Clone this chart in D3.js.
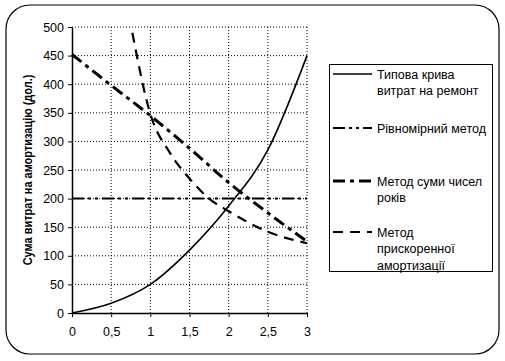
<!DOCTYPE html>
<html>
<head>
<meta charset="utf-8">
<script src="https://cdn.jsdelivr.net/npm/d3@7"></script>
<style>
  body { margin: 0; background: #fff; }
  svg { font-family: "Liberation Sans", Arial, sans-serif; }
</style>
</head>
<body>
<svg id="chart" width="505" height="361"></svg>
<script>
// data
const xTicks = [0, 0.5, 1, 1.5, 2, 2.5, 3];
const yTicks = [0, 50, 100, 150, 200, 250, 300, 350, 400, 450, 500];

const repairX = [0, 0.5, 1, 1.5, 2, 2.5, 3];
const repairY = [0, 17, 50, 110, 187, 285, 450];

const straightX = [0, 3];
const straightY = [200, 200];

const sumYearsX = [0, 0.5, 1, 1.5, 2, 2.5, 3];
const sumYearsY = [452, 398, 345, 288, 228, 175, 125];

const accelX = [0.77, 1, 1.25, 1.5, 1.75, 2, 2.5, 3];
const accelY = [490, 348, 280, 235, 200, 178, 142, 122];

const legendLabels = [
  ['Типова крива', 'витрат на ремонт'],
  ['Рівномірний метод'],
  ['Метод суми чисел', 'років'],
  ['Метод', 'прискоренної', 'амортизації']
];

const svg = d3.select('#chart');
const margin = { left: 72, top: 27, right: 198, bottom: 48 };
const width = 505 - margin.left - margin.right;
const height = 361 - margin.top - margin.bottom;

// outer frame
svg.append('rect')
  .attr('x', 6).attr('y', 5)
  .attr('width', 493).attr('height', 349)
  .attr('rx', 24).attr('ry', 24)
  .attr('fill', 'none')
  .attr('stroke', '#000')
  .attr('stroke-width', 1.2);

const x = d3.scaleLinear().domain([0, 3]).range([0, width]);
const y = d3.scaleLinear().domain([0, 500]).range([height, 0]);

const g = svg.append('g').attr('transform', `translate(${margin.left},${margin.top})`);

// grid
g.append('g').selectAll('line')
  .data(yTicks.filter(d => d > 0))
  .join('line')
  .attr('x1', 0).attr('x2', width)
  .attr('y1', d => y(d)).attr('y2', d => y(d))
  .attr('stroke', '#000').attr('stroke-width', 1)
  .attr('stroke-dasharray', '1,2');

g.append('g').selectAll('line')
  .data(xTicks.filter(d => d > 0))
  .join('line')
  .attr('x1', d => x(d)).attr('x2', d => x(d))
  .attr('y1', 0).attr('y2', height)
  .attr('stroke', '#000').attr('stroke-width', 1)
  .attr('stroke-dasharray', '1,2');

// axes
const xAxis = g.append('g')
  .attr('transform', `translate(0,${height})`)
  .call(d3.axisBottom(x).tickValues(xTicks).tickSize(4).tickSizeOuter(0)
    .tickFormat(d => String(d).replace('.', ',')));
const yAxis = g.append('g')
  .call(d3.axisLeft(y).tickValues(yTicks).tickSize(4).tickSizeOuter(0));

[xAxis, yAxis].forEach(a => {
  a.select('.domain').attr('stroke', '#000').attr('stroke-width', 1.5);
  a.selectAll('.tick line').attr('stroke', '#000');
  a.selectAll('.tick text')
    .attr('font-size', 12.5)
    .attr('fill', '#000')
    .attr('font-family', '"Liberation Sans", Arial, sans-serif');
});
xAxis.selectAll('.tick text').attr('dy', '1.25em');
yAxis.selectAll('.tick text').attr('x', -8);

// y label
svg.append('text')
  .attr('transform', `translate(32,${margin.top + height / 2}) rotate(-90) scale(1,1.2)`)
  .attr('text-anchor', 'middle')
  .attr('font-size', 11)
  .attr('font-weight', 'bold')
  .text('Сума витрат на амортизацію (дол.)');

// series
const styles = [
  { w: 1.6, dash: null },
  { w: 2, dash: '12,4,3,4,3,4' },
  { w: 3, dash: '12,5,4,5' },
  { w: 2.2, dash: '10,7' }
];
const series = [
  { xs: repairX, ys: repairY },
  { xs: straightX, ys: straightY },
  { xs: sumYearsX, ys: sumYearsY },
  { xs: accelX, ys: accelY }
];

const line = d3.line()
  .x(d => x(d[0]))
  .y(d => y(d[1]))
  .curve(d3.curveMonotoneX);

series.forEach((s, i) => {
  g.append('path')
    .datum(s.xs.map((v, j) => [v, s.ys[j]]))
    .attr('d', line)
    .attr('fill', 'none')
    .attr('stroke', '#000')
    .attr('stroke-width', styles[i].w)
    .attr('stroke-dasharray', styles[i].dash);
});

// legend
const legend = svg.append('g');
legend.append('rect')
  .attr('x', 329.5).attr('y', 64.5)
  .attr('width', 163).attr('height', 207)
  .attr('fill', '#fff')
  .attr('stroke', '#000')
  .attr('stroke-width', 1);

const legendY = [74, 128, 181, 232];
legendLabels.forEach((lines, i) => {
  legend.append('line')
    .attr('x1', 333).attr('x2', 372)
    .attr('y1', legendY[i]).attr('y2', legendY[i])
    .attr('stroke', '#000')
    .attr('stroke-width', styles[i].w)
    .attr('stroke-dasharray', styles[i].dash);
  const t = legend.append('text')
    .attr('x', 377)
    .attr('y', legendY[i] + 4.5)
    .attr('font-size', 12.5);
  t.selectAll('tspan')
    .data(lines)
    .join('tspan')
    .attr('x', 377)
    .attr('dy', (d, j) => j === 0 ? 0 : 16.5)
    .text(d => d);
});
</script>
</body>
</html>
